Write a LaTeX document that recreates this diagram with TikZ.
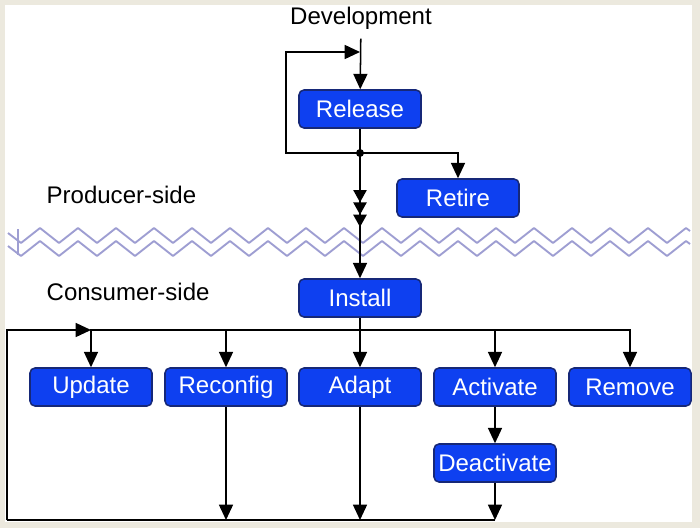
\documentclass[tikz,border=0pt]{standalone}
\usepackage{fontspec}
\setmainfont{Liberation Sans}
\usetikzlibrary{arrows.meta}

\definecolor{boxblue}{RGB}{14,64,240}
\definecolor{boxline}{RGB}{22,40,120}
\definecolor{wavecol}{RGB}{158,158,210}
\definecolor{pagecol}{RGB}{236,233,222}

\tikzset{
  stepbox/.style={rectangle,rounded corners=0.15cm,draw=boxline,fill=boxblue,
    text=white,minimum width=3.66cm,minimum height=1.14cm,inner sep=0pt},
  wave/.style={wavecol,line width=1.6pt,line join=round},
  triplehead/.style={-{Triangle[length=0.37cm,width=0.4cm,sep=0pt]
    Triangle[length=0.37cm,width=0.4cm,sep=0pt]
    Triangle[length=0.37cm,width=0.4cm,sep=0pt]}}
}

\begin{document}
\begin{tikzpicture}[x=0.03cm,y=-0.03cm,line width=1.3pt,
    >={Triangle[length=0.46cm,width=0.42cm]},
    every node/.style={font=\fontsize{20.5}{24}\selectfont}]

      \fill[pagecol] (0,0) rectangle (700,528);
      \fill[white] (5,5) rectangle (692,522);
      \useasboundingbox (0,0) rectangle (700,528);

      % boundary between producer and consumer
      \draw[wave] (8,233) \foreach \k in {0,...,17} {-- ({21+38*\k},243) -- ({40+38*\k},228)} -- (690,231);
      \draw[wave] (8,246) \foreach \k in {0,...,17} {-- ({21+38*\k},256) -- ({40+38*\k},241)} -- (690,244);
      \draw[wave] (18,229) -- (18,255);

      \begin{scope}[every node/.style={stepbox,font=\fontsize{20.5}{24}\selectfont}]
        \node (release)    at (360,109) {Release};
        \node (retire)     at (458,198) {Retire};
        \node (install)    at (360,298) {Install};
        \node (update)     at (91,387)  {Update};
        \node (reconfig)   at (226,387) {Reconfig};
        \node (adapt)      at (360,387) {Adapt};
        \node (activate)   at (495,387) {Activate};
        \node (remove)     at (630,387) {Remove};
        \node (deactivate) at (495,463) {Deactivate};
      \end{scope}

      \node (dev)  at (361,18) {Development};
      \node[anchor=west] (prod) at (42,195) {Producer-side};
      \node[anchor=west] (cons) at (42,292) {Consumer-side};

      \coordinate (split)  at (360,153);
      \coordinate (loopbl) at (286,153);
      \coordinate (looptl) at (286,52);
      \coordinate (looptr) at (360,52);
      \coordinate (stack)  at (360,227);
      \coordinate (bus)    at (360,330);
      \coordinate (edgetl) at (7,330);
      \coordinate (edgebl) at (7,520);

      % producer side
      \draw[->,shorten <=4pt] (dev) -- (release);
      \draw (release) -- (split);
      \fill (split) circle (0.12cm);
      \draw[->] (split) -- (loopbl) -- (looptl) -- (looptr);
      \draw[->] (split) -| (retire);
      \draw[triplehead] (split) -- (stack);
      \draw[->] (split) -- (install);

      % consumer side
      \draw[->] (install) -- (adapt);
      \draw[->] (bus) -| (update);
      \draw[->] (bus) -| (reconfig);
      \draw[->] (bus) -| (activate);
      \draw[->] (bus) -| (remove);
      \draw[->] (activate) -- (deactivate);
      \draw[->] (reconfig) -- (reconfig |- edgebl);
      \draw[->] (adapt) -- (adapt |- edgebl);
      \draw[->] (deactivate) -- (deactivate |- edgebl);
      \draw (deactivate |- edgebl) -- (edgebl);
      \draw[->] (edgebl) -- (edgetl) -- (update |- edgetl);

    \end{tikzpicture}
\end{document}
